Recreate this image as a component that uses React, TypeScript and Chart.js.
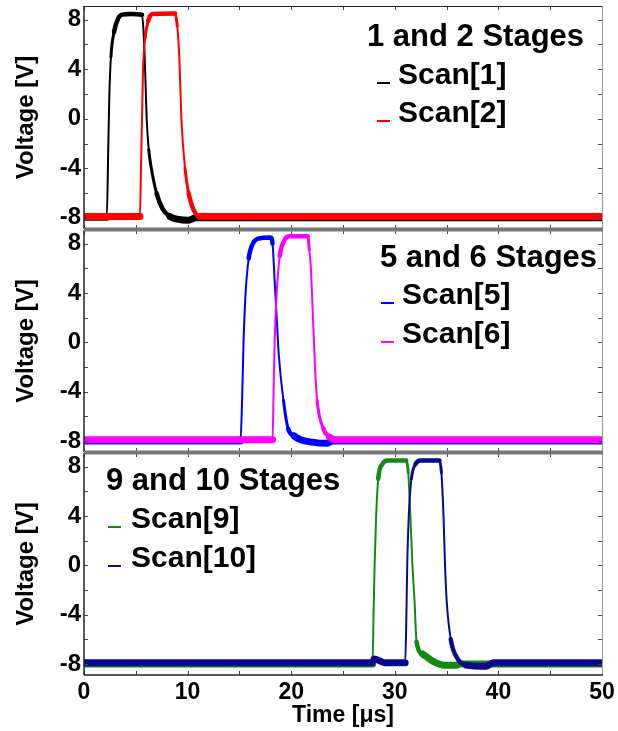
import React, { useEffect, useRef } from "react";
import { Chart, registerables } from "chart.js";

Chart.register(...registerables);

// ---------- axis ticks ----------
const X_TICKS = [0, 10, 20, 30, 40, 50];
const X_MINOR = [0, 5, 10, 15, 20, 25, 30, 35, 40, 45, 50];
const Y_TICKS = [-8, -4, 0, 4, 8];
const Y_MINOR = [-8, -6, -4, -2, 0, 2, 4, 6, 8];
const X_MIN = 0;
const X_MAX = 50;
const Y_MIN = -8.9;
const Y_MAX = 9.1;

// ---------- series (time in µs, voltage in V) ----------
const scan1T = [0, 2.2, 2.35, 2.45, 2.6, 2.9, 3.3, 3.7, 4.5, 5.6, 5.75, 5.9, 6.05, 6.25, 6.5, 7.0, 7.6, 8.3, 9.0, 10.0, 10.8, 50];
const scan1V = [-7.95, -7.95, -2, 2, 5, 7, 8.1, 8.4, 8.45, 8.4, 7, 4, 0, -2.5, -4, -6, -7.3, -7.9, -8.1, -8.2, -8.0, -8.0];

const scan2T = [0, 5.4, 5.5, 5.6, 5.7, 5.9, 6.2, 6.6, 8.8, 9.0, 9.2, 9.4, 9.75, 10.1, 10.6, 11.2, 50];
const scan2V = [-7.9, -7.9, -4, 0, 4, 6.5, 7.9, 8.45, 8.5, 7.5, 5, 0, -4, -6, -7.4, -7.9, -7.9];

const scan5T = [0, 15.1, 15.25, 15.4, 15.6, 15.9, 16.3, 16.8, 18.0, 18.2, 18.4, 18.6, 18.8, 19.25, 19.7, 20.3, 20.9, 22.0, 23.4, 24.0, 50];
const scan5V = [-8, -8, -5, 0, 4, 6.8, 8, 8.4, 8.5, 8, 5, 2, -1, -4.7, -7, -7.6, -7.9, -8.1, -8.2, -8.0, -8.0];

const scan6T = [0, 18.2, 18.3, 18.4, 18.6, 18.9, 19.3, 19.8, 21.6, 21.75, 21.9, 22.1, 22.3, 22.5, 23.1, 23.7, 24.3, 50];
const scan6V = [-7.9, -7.9, -4, 0, 4, 7, 8.2, 8.6, 8.6, 7.5, 6, 2, -2, -4.7, -7, -7.7, -7.9, -7.9];

const scan9T = [0, 27.85, 27.95, 28.05, 28.2, 28.4, 28.8, 29.3, 31.1, 31.3, 31.5, 31.7, 31.9, 32.1, 32.7, 33.7, 34.7, 36.0, 36.3, 50];
const scan9V = [-8, -8, -4, 0, 4, 7, 8.2, 8.5, 8.5, 7.5, 4, 0, -2.8, -6.2, -7.2, -7.8, -8.1, -8.1, -8.0, -8.0];

const scan10T = [0, 27.8, 28.0, 28.4, 29.0, 31.0, 31.1, 31.2, 31.35, 31.6, 32.0, 32.5, 34.3, 34.5, 34.7, 34.85, 35.0, 35.4, 36.0, 36.9, 38.8, 39.5, 50];
const scan10V = [-7.9, -7.9, -7.6, -7.7, -7.9, -7.9, -5, 0, 4, 7, 8.2, 8.5, 8.5, 7.5, 4, 0, -2.8, -6, -7.5, -8.1, -8.2, -7.9, -7.9];

// ---------- labels ----------
const panelTitles = ["1 and 2 Stages", "5 and 6 Stages", "9 and 10 Stages"];
const seriesNames = [["Scan[1]", "Scan[2]"], ["Scan[5]", "Scan[6]"], ["Scan[9]", "Scan[10]"]];
const seriesColors = [["#000000", "#ff0000"], ["#0000ff", "#ff00ff"], ["#138a13", "#0a0a8c"]];
const seriesT = [[scan1T, scan2T], [scan5T, scan6T], [scan9T, scan10T]];
const seriesV = [[scan1V, scan2V], [scan5V, scan6V], [scan9V, scan10V]];
// which series is drawn on top (index) per panel
const topSeries = [1, 1, 1];

const Y_TITLE = "Voltage [V]";
const X_TITLE = "Time [\u03bcs]";

const FONT = '"Liberation Sans", Arial, sans-serif';

// ---------- layout (page pixels) ----------
const PANELS = [
  { top: 0, height: 230, padTop: 6, padBottom: 1, xAxis: false,
    title: { x: 367, y: 37 }, lineX: 377, textX: 398, rows: [76, 114] },
  { top: 230, height: 223, padTop: 0, padBottom: 1, xAxis: false,
    title: { x: 380, y: 258 }, lineX: 381, textX: 402, rows: [296, 335] },
  { top: 453, height: 278, padTop: 0, padBottom: 0, xAxis: true,
    title: { x: 106, y: 481 }, lineX: 108, textX: 131, rows: [520, 559] },
];

function toPoints(t: number[], v: number[]) {
  return t.map((x, i) => ({ x, y: v[i] }));
}

function segWidth(ctx: any) {
  const a = ctx.p0.parsed;
  const b = ctx.p1.parsed;
  const dx = Math.abs(b.x - a.x) || 1e-6;
  const slope = Math.abs(b.y - a.y) / dx;
  const level = (a.y + b.y) / 2;
  if (slope < 0.6) return level > 0 ? 4.5 : 7;
  if (slope < 3) return 4.5;
  if (slope < 8) return 3;
  return 2;
}

function makePlugin(pi: number) {
  const P = PANELS[pi];
  return {
    id: "panelDeco" + pi,
    afterDatasetsDraw(chart: any) {
      const { ctx, chartArea } = chart;
      const xs = chart.scales.x;
      const ys = chart.scales.y;
      const { left, right, top, bottom } = chartArea;
      ctx.save();
      // inner ticks
      ctx.strokeStyle = "#444";
      ctx.lineWidth = 1;
      ctx.beginPath();
      X_MINOR.forEach((v) => {
        const px = Math.round(xs.getPixelForValue(v)) + 0.5;
        ctx.moveTo(px, bottom);
        ctx.lineTo(px, bottom - 4);
        ctx.moveTo(px, top);
        ctx.lineTo(px, top + 4);
      });
      Y_MINOR.forEach((v) => {
        const py = Math.round(ys.getPixelForValue(v)) + 0.5;
        ctx.moveTo(left, py);
        ctx.lineTo(left + 4, py);
        ctx.moveTo(right, py);
        ctx.lineTo(right - 4, py);
      });
      ctx.stroke();
      // borders
      ctx.strokeStyle = "#222";
      ctx.lineWidth = 1.5;
      ctx.beginPath();
      ctx.moveTo(left, top);
      ctx.lineTo(left, bottom);
      ctx.stroke();
      ctx.strokeStyle = "#999";
      ctx.lineWidth = 1;
      ctx.beginPath();
      ctx.moveTo(right + 0.5, top);
      ctx.lineTo(right + 0.5, bottom);
      ctx.stroke();
      if (pi === 0) {
        ctx.strokeStyle = "#222";
        ctx.lineWidth = 1;
        ctx.beginPath();
        ctx.moveTo(left, top + 0.5);
        ctx.lineTo(right, top + 0.5);
        ctx.stroke();
      } else {
        ctx.strokeStyle = "#777";
        ctx.lineWidth = 3;
        ctx.beginPath();
        ctx.moveTo(left, top);
        ctx.lineTo(right + 1, top);
        ctx.stroke();
      }
      if (pi === 2) {
        ctx.strokeStyle = "#222";
        ctx.lineWidth = 1.5;
        ctx.beginPath();
        ctx.moveTo(left, bottom);
        ctx.lineTo(right + 1, bottom);
        ctx.stroke();
      } else {
        ctx.strokeStyle = "#777";
        ctx.lineWidth = 3;
        ctx.beginPath();
        ctx.moveTo(left, bottom);
        ctx.lineTo(right + 1, bottom);
        ctx.stroke();
      }
      // titles and legend
      const off = P.top;
      ctx.fillStyle = "#000";
      ctx.textBaseline = "middle";
      ctx.textAlign = "left";
      ctx.font = `bold 31px ${FONT}`;
      ctx.fillText(panelTitles[pi], P.title.x, P.title.y - off);
      ctx.font = `bold 30px ${FONT}`;
      seriesNames[pi].forEach((name, k) => {
        const cy = P.rows[k] - off;
        ctx.fillStyle = "#000";
        ctx.fillText(name, P.textX, cy);
        ctx.strokeStyle = seriesColors[pi][k];
        ctx.lineWidth = 2;
        ctx.beginPath();
        ctx.moveTo(P.lineX, cy + 7);
        ctx.lineTo(P.lineX + 13, cy + 7);
        ctx.stroke();
      });
      ctx.restore();
    },
  };
}

function Panel({ pi }: { pi: number }) {
  const ref = useRef<HTMLCanvasElement | null>(null);
  const P = PANELS[pi];
  useEffect(() => {
    if (!ref.current) return;
    const datasets = seriesNames[pi].map((name, k) => ({
      label: name,
      data: toPoints(seriesT[pi][k], seriesV[pi][k]),
      borderColor: seriesColors[pi][k],
      backgroundColor: seriesColors[pi][k],
      borderWidth: 3,
      pointRadius: 0,
      fill: false,
      cubicInterpolationMode: "monotone" as const,
      borderCapStyle: "round" as const,
      borderJoinStyle: "round" as const,
      order: k === topSeries[pi] ? 0 : 1,
      segment: { borderWidth: segWidth },
    }));
    const chart = new Chart(ref.current, {
      type: "line",
      data: { datasets },
      plugins: [makePlugin(pi)],
      options: {
        animation: false,
        responsive: true,
        maintainAspectRatio: false,
        layout: { padding: { top: P.padTop, bottom: P.padBottom, left: 0, right: 16 } },
        plugins: { legend: { display: false }, tooltip: { enabled: false } },
        scales: {
          x: {
            type: "linear",
            min: X_MIN,
            max: X_MAX,
            display: P.xAxis,
            grid: { display: false, drawTicks: false },
            border: { display: false },
            afterBuildTicks: (s: any) => {
              s.ticks = X_TICKS.map((v) => ({ value: v }));
            },
            afterFit: (s: any) => {
              if (P.xAxis) s.height = 56;
              s.paddingLeft = 0;
              s.paddingRight = 0;
            },
            ticks: {
              color: "#000",
              padding: 4,
              maxRotation: 0,
              font: { family: FONT, size: 23, weight: "bold" },
            },
            title: {
              display: true,
              text: X_TITLE,
              color: "#000",
              padding: { top: 0, bottom: 2 },
              font: { family: FONT, size: 23, weight: "bold" },
            },
          },
          y: {
            type: "linear",
            min: Y_MIN,
            max: Y_MAX,
            grid: { display: false, drawTicks: false },
            border: { display: false },
            afterBuildTicks: (s: any) => {
              s.ticks = Y_TICKS.map((v) => ({ value: v }));
            },
            afterFit: (s: any) => {
              s.width = 84;
              s.paddingTop = 0;
              s.paddingBottom = 0;
            },
            ticks: {
              color: "#000",
              padding: 3,
              font: { family: FONT, size: 24, weight: "bold" },
            },
            title: {
              display: true,
              text: Y_TITLE,
              color: "#000",
              padding: { top: 12, bottom: 0 },
              font: { family: FONT, size: 24, weight: "bold" },
            },
          },
        },
      },
    });
    return () => chart.destroy();
  }, [pi]);
  return (
    <div style={{ position: "absolute", left: 0, top: P.top, width: 618, height: P.height }}>
      <canvas ref={ref} />
    </div>
  );
}

export default function App() {
  return (
    <div style={{ position: "absolute", left: 0, top: 0, width: 618, height: 731, background: "#fff" }}>
      <Panel pi={0} />
      <Panel pi={1} />
      <Panel pi={2} />
    </div>
  );
}
